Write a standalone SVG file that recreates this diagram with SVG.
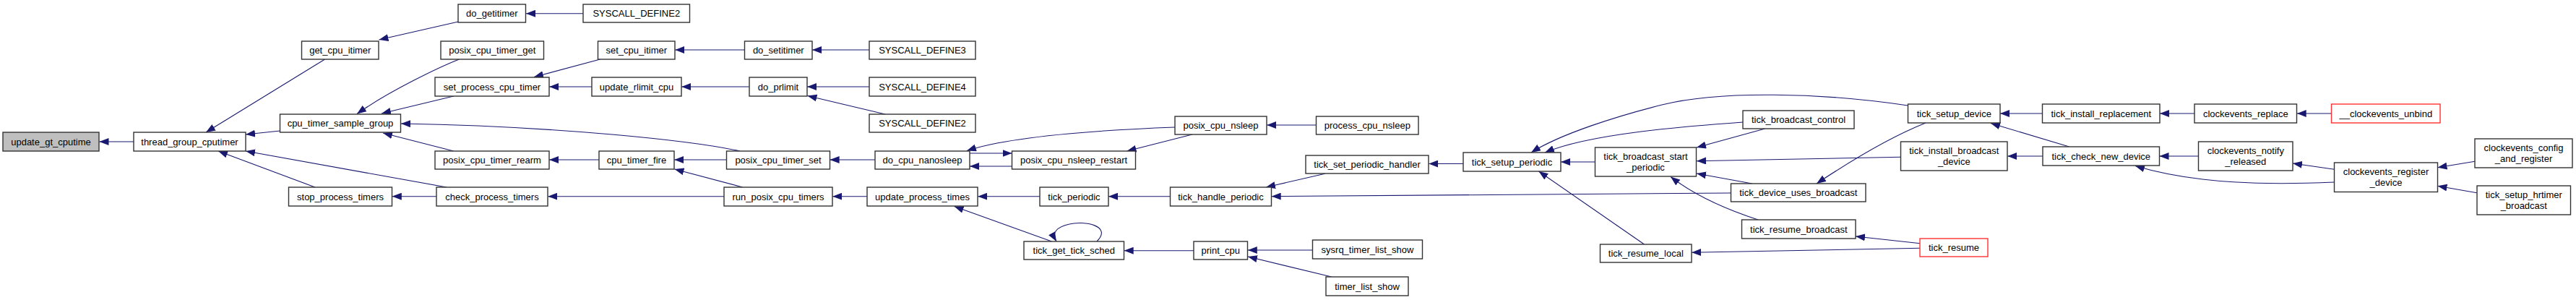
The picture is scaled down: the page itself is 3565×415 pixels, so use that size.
<svg xmlns="http://www.w3.org/2000/svg" width="3565" height="415" viewBox="0 0 3565 415">
<style>
.n rect{fill:#fff;stroke:#333;stroke-width:1.4}
.root rect{fill:#bfbfbf}
.red rect{stroke:#ff3333}
text{font-family:"Liberation Sans",Arial,sans-serif;font-size:13px;fill:#000;text-anchor:middle}
.e path{fill:none;stroke:#191970;stroke-width:1.1;marker-end:url(#ah)}
</style>
<defs>
<marker id="ah" viewBox="0 0 13 10" refX="13" refY="5" markerWidth="13" markerHeight="10" markerUnits="userSpaceOnUse" orient="auto"><path d="M0,0 L13,5 L0,10 z" fill="#191970"/></marker>
</defs>
<rect width="3565" height="415" fill="#fff"/>
<g class="e" id="edges">
<path d="M185,196 L137.5,196"/>
<path d="M449.6,82 L285,183"/>
<path d="M387.6,181 L340,186"/>
<path d="M618,259 L340,209"/>
<path d="M436,259 L302,209"/>
<path d="M634.3,30 L524.5,55"/>
<path d="M807,18.7 L728,18.7"/>
<path d="M635.5,82 C610,92 540,125 494,157.5"/>
<path d="M627.8,133 L528,157"/>
<path d="M1024,209 C960,195 780,175 555,171"/>
<path d="M627.8,209 L530,184"/>
<path d="M604,271.7 L542.8,271.7"/>
<path d="M830.6,82 L739,106.5"/>
<path d="M819,120 L760,120"/>
<path d="M1030.5,69 L934.3,69"/>
<path d="M1203,69 L1124,69"/>
<path d="M1037,120 L943.2,120"/>
<path d="M1203,120 L1117,120"/>
<path d="M1225,158 L1117.5,132.5"/>
<path d="M829,221 L760,221"/>
<path d="M1005.5,221 L933.2,221"/>
<path d="M1027.7,259 L933.5,234"/>
<path d="M1002,271.7 L758.3,271.7"/>
<path d="M1211,221 L1148.6,221"/>
<path d="M1200,271.7 L1152.2,271.7"/>
<path d="M1626,176 C1520,180 1400,188 1338,208.5"/>
<path d="M1400.5,230 L1342,230"/>
<path d="M1342,212 L1400.5,212"/>
<path d="M1650,186 L1559.5,209"/>
<path d="M1821.5,173 L1753.2,173"/>
<path d="M1439,271.7 L1353.2,271.7"/>
<path d="M1455.5,334 L1320.6,285.5"/>
<path d="M1518,334 C1540,312 1500,305 1480,310 C1462,314 1455,322 1462,334"/>
<path d="M1619.5,271.7 L1534,271.7"/>
<path d="M1652,346.7 L1555.7,346.7"/>
<path d="M1816.5,346 L1726.8,346"/>
<path d="M1842.8,383 L1727,355"/>
<path d="M1833.7,240.3 L1752,259"/>
<path d="M2395.5,267 L1759.7,271.7"/>
<path d="M2025,226.5 L1977.3,226.5"/>
<path d="M2207.5,224 L2160,224"/>
<path d="M2275.5,338 L2129.5,237"/>
<path d="M2640.5,146 C2520,128 2380,125 2300,145 C2240,160 2160,185 2119,211"/>
<path d="M2412,169 C2330,175 2200,185 2138,211"/>
<path d="M2442.6,178 L2348,204"/>
<path d="M2630.5,217.3 L2348,222.7"/>
<path d="M2424.8,254 L2348,240"/>
<path d="M2433,304 C2390,290 2345,270 2312,244.5"/>
<path d="M2665,170 C2630,184 2580,210 2514,254"/>
<path d="M2826.5,157 L2768,157"/>
<path d="M2863.7,203 L2755,170.5"/>
<path d="M2827,216 L2778.3,216"/>
<path d="M2657.3,336.7 L2568,327"/>
<path d="M2657.3,343.3 L2341.2,349.3"/>
<path d="M3037,157 L2989,157"/>
<path d="M3226.5,157 L3178.7,157"/>
<path d="M3042.5,216 L2988.5,216"/>
<path d="M3230.5,252 C3140,256 3040,255 2955,229.5"/>
<path d="M3230.5,234.3 L3173,226"/>
<path d="M3425,223.3 L3373.5,231.7"/>
<path d="M3427.7,266.7 L3373.5,257.3"/>
</g>
<g id="update_gt_cputime" class="n root"><rect x="4" y="183" width="133" height="26"/><text x="70.5" y="200.5">update_gt_cputime</text></g>
<g id="thread_group_cputimer" class="n"><rect x="185" y="183" width="155" height="26"/><text x="262.5" y="200.5">thread_group_cputimer</text></g>
<g id="get_cpu_itimer" class="n"><rect x="417.5" y="57" width="106.5" height="25"/><text x="470.8" y="74">get_cpu_itimer</text></g>
<g id="cpu_timer_sample_group" class="n"><rect x="387.5" y="158" width="167" height="25"/><text x="471" y="175">cpu_timer_sample_group</text></g>
<g id="stop_process_timers" class="n"><rect x="399.5" y="259" width="143" height="26"/><text x="471" y="276.5">stop_process_timers</text></g>
<g id="do_getitimer" class="n"><rect x="634" y="6" width="93.5" height="25"/><text x="680.8" y="23">do_getitimer</text></g>
<g id="SYSCALL_DEFINE2_a" class="n"><rect x="807" y="6" width="147.5" height="25"/><text x="880.8" y="23">SYSCALL_DEFINE2</text></g>
<g id="posix_cpu_timer_get" class="n"><rect x="610" y="57" width="142.5" height="25"/><text x="681.3" y="74">posix_cpu_timer_get</text></g>
<g id="set_cpu_itimer" class="n"><rect x="827.5" y="57" width="106.5" height="25"/><text x="880.8" y="74">set_cpu_itimer</text></g>
<g id="do_setitimer" class="n"><rect x="1030.5" y="57" width="93.5" height="25"/><text x="1077.3" y="74">do_setitimer</text></g>
<g id="set_process_cpu_timer" class="n"><rect x="602" y="107" width="158" height="26"/><text x="681" y="124.5">set_process_cpu_timer</text></g>
<g id="update_rlimit_cpu" class="n"><rect x="819" y="107" width="124" height="26"/><text x="881" y="124.5">update_rlimit_cpu</text></g>
<g id="do_prlimit" class="n"><rect x="1037" y="107" width="80" height="26"/><text x="1077" y="124.5">do_prlimit</text></g>
<g id="posix_cpu_timer_rearm" class="n"><rect x="602" y="209" width="158" height="25"/><text x="681" y="226">posix_cpu_timer_rearm</text></g>
<g id="cpu_timer_fire" class="n"><rect x="829" y="209" width="104" height="25"/><text x="881" y="226">cpu_timer_fire</text></g>
<g id="posix_cpu_timer_set" class="n"><rect x="1005.5" y="209" width="143" height="25"/><text x="1077" y="226">posix_cpu_timer_set</text></g>
<g id="check_process_timers" class="n"><rect x="604" y="259" width="154" height="26"/><text x="681" y="276.5">check_process_timers</text></g>
<g id="run_posix_cpu_timers" class="n"><rect x="1002" y="259" width="150" height="26"/><text x="1077" y="276.5">run_posix_cpu_timers</text></g>
<g id="SYSCALL_DEFINE3" class="n"><rect x="1203" y="57" width="147" height="25"/><text x="1276.5" y="74">SYSCALL_DEFINE3</text></g>
<g id="SYSCALL_DEFINE4" class="n"><rect x="1203" y="107" width="147" height="26"/><text x="1276.5" y="124.5">SYSCALL_DEFINE4</text></g>
<g id="SYSCALL_DEFINE2_b" class="n"><rect x="1203" y="158" width="147" height="25"/><text x="1276.5" y="175">SYSCALL_DEFINE2</text></g>
<g id="posix_cpu_nsleep" class="n"><rect x="1626" y="161" width="127" height="25"/><text x="1689.5" y="178">posix_cpu_nsleep</text></g>
<g id="do_cpu_nanosleep" class="n"><rect x="1211" y="209" width="131" height="25"/><text x="1276.5" y="226">do_cpu_nanosleep</text></g>
<g id="posix_cpu_nsleep_restart" class="n"><rect x="1400.5" y="209" width="171" height="25"/><text x="1486" y="226">posix_cpu_nsleep_restart</text></g>
<g id="update_process_times" class="n"><rect x="1200" y="259" width="153" height="26"/><text x="1276.5" y="276.5">update_process_times</text></g>
<g id="tick_periodic" class="n"><rect x="1439" y="259" width="95" height="26"/><text x="1486.5" y="276.5">tick_periodic</text></g>
<g id="tick_handle_periodic" class="n"><rect x="1619.5" y="259" width="140" height="26"/><text x="1689.5" y="276.5">tick_handle_periodic</text></g>
<g id="tick_get_tick_sched" class="n"><rect x="1417" y="334" width="138.5" height="25"/><text x="1486.3" y="351">tick_get_tick_sched</text></g>
<g id="print_cpu" class="n"><rect x="1652" y="334" width="74.5" height="25"/><text x="1689.3" y="351">print_cpu</text></g>
<g id="process_cpu_nsleep" class="n"><rect x="1821.5" y="161" width="141.5" height="25"/><text x="1892.3" y="178">process_cpu_nsleep</text></g>
<g id="tick_set_periodic_handler" class="n"><rect x="1807" y="215" width="170" height="25"/><text x="1892" y="232">tick_set_periodic_handler</text></g>
<g id="tick_setup_periodic" class="n"><rect x="2025" y="211" width="135" height="26"/><text x="2092.5" y="228.5">tick_setup_periodic</text></g>
<g id="tick_broadcast_start_periodic" class="n"><rect x="2207.5" y="204" width="140" height="40"/><text x="2277.5" y="220.5">tick_broadcast_start</text><text x="2277.5" y="235.5">_periodic</text></g>
<g id="sysrq_timer_list_show" class="n"><rect x="1816.5" y="332" width="152" height="26"/><text x="1892.5" y="349.5">sysrq_timer_list_show</text></g>
<g id="timer_list_show" class="n"><rect x="1835" y="383" width="114" height="26"/><text x="1892" y="400.5">timer_list_show</text></g>
<g id="tick_resume_local" class="n"><rect x="2214.5" y="338" width="126.5" height="25"/><text x="2277.8" y="355">tick_resume_local</text></g>
<g id="tick_setup_device" class="n"><rect x="2640.5" y="144" width="127.5" height="26"/><text x="2704.3" y="161.5">tick_setup_device</text></g>
<g id="tick_broadcast_control" class="n"><rect x="2412" y="153" width="154" height="25"/><text x="2489" y="170">tick_broadcast_control</text></g>
<g id="tick_install_broadcast_device" class="n"><rect x="2630.5" y="196" width="147.5" height="40"/><text x="2704.3" y="212.5">tick_install_broadcast</text><text x="2704.3" y="227.5">_device</text></g>
<g id="tick_device_uses_broadcast" class="n"><rect x="2395.5" y="254" width="186.5" height="25"/><text x="2488.8" y="271">tick_device_uses_broadcast</text></g>
<g id="tick_resume_broadcast" class="n"><rect x="2410.5" y="304" width="157.5" height="26"/><text x="2489.3" y="321.5">tick_resume_broadcast</text></g>
<g id="tick_resume" class="n red"><rect x="2657" y="330" width="94" height="25"/><text x="2704" y="347">tick_resume</text></g>
<g id="tick_install_replacement" class="n"><rect x="2826.5" y="144" width="162.5" height="26"/><text x="2907.8" y="161.5">tick_install_replacement</text></g>
<g id="tick_check_new_device" class="n"><rect x="2827" y="203" width="161.5" height="26"/><text x="2907.8" y="220.5">tick_check_new_device</text></g>
<g id="clockevents_replace" class="n"><rect x="3037" y="144" width="141.5" height="26"/><text x="3107.8" y="161.5">clockevents_replace</text></g>
<g id="__clockevents_unbind" class="n red"><rect x="3226.5" y="144" width="150.5" height="26"/><text x="3301.8" y="161.5">__clockevents_unbind</text></g>
<g id="clockevents_notify_released" class="n"><rect x="3042.5" y="196" width="130.5" height="40"/><text x="3107.8" y="212.5">clockevents_notify</text><text x="3107.8" y="227.5">_released</text></g>
<g id="clockevents_register_device" class="n"><rect x="3230.5" y="225" width="143" height="40.5"/><text x="3302" y="241.5">clockevents_register</text><text x="3302" y="256.5">_device</text></g>
<g id="clockevents_config_and_register" class="n"><rect x="3425" y="192" width="135" height="40"/><text x="3492.5" y="208.5">clockevents_config</text><text x="3492.5" y="223.5">_and_register</text></g>
<g id="tick_setup_hrtimer_broadcast" class="n"><rect x="3428" y="257" width="129.5" height="40"/><text x="3492.8" y="273.5">tick_setup_hrtimer</text><text x="3492.8" y="288.5">_broadcast</text></g>
</svg>
